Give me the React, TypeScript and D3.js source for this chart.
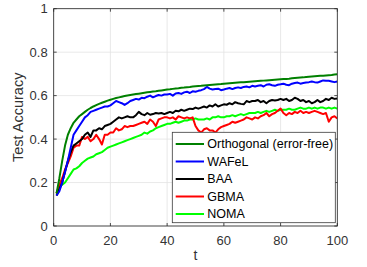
import React from 'react';
import * as d3 from 'd3';

const tValues = d3.range(1, 101);

const orthogonal = [
  0.15, 0.22, 0.30, 0.37, 0.42, 0.45, 0.475, 0.49, 0.505, 0.515,
  0.525, 0.535, 0.543, 0.55, 0.556, 0.562, 0.567, 0.572, 0.577, 0.581,
  0.585, 0.589, 0.592, 0.595, 0.598, 0.601, 0.603, 0.605, 0.607, 0.609,
  0.611, 0.613, 0.615, 0.617, 0.619, 0.62, 0.622, 0.624, 0.626, 0.628,
  0.629, 0.631, 0.633, 0.634, 0.636, 0.637, 0.639, 0.64, 0.642, 0.643,
  0.644, 0.645, 0.647, 0.648, 0.649, 0.65, 0.651, 0.652, 0.653, 0.655,
  0.656, 0.657, 0.658, 0.659, 0.66, 0.661, 0.662, 0.663, 0.664, 0.665,
  0.666, 0.667, 0.668, 0.669, 0.67, 0.671, 0.672, 0.673, 0.674, 0.675,
  0.676, 0.677, 0.678, 0.68, 0.681, 0.682, 0.683, 0.684, 0.686, 0.687,
  0.688, 0.689, 0.69, 0.691, 0.692, 0.693, 0.694, 0.695, 0.697, 0.698,
];

const wafel = [
  0.14, 0.16, 0.2, 0.25, 0.3, 0.36, 0.42, 0.44, 0.46, 0.48,
  0.5, 0.51, 0.525, 0.53, 0.535, 0.54, 0.545, 0.55, 0.55, 0.555,
  0.565, 0.575, 0.57, 0.565, 0.557, 0.565, 0.575, 0.58, 0.585, 0.582,
  0.59, 0.588, 0.595, 0.6, 0.592, 0.598, 0.603, 0.6, 0.605, 0.605,
  0.608, 0.6, 0.61, 0.612, 0.608, 0.615, 0.618, 0.612, 0.62, 0.618,
  0.622, 0.625, 0.63, 0.64, 0.632, 0.628, 0.63, 0.632, 0.625, 0.628,
  0.632, 0.635, 0.63, 0.635, 0.638, 0.635, 0.64, 0.642, 0.638, 0.645,
  0.642, 0.645, 0.648, 0.642, 0.65, 0.652, 0.648, 0.645, 0.65, 0.652,
  0.655, 0.65, 0.648, 0.655, 0.658, 0.66, 0.655, 0.658, 0.66, 0.662,
  0.665, 0.662, 0.66, 0.665, 0.67, 0.668, 0.668, 0.665, 0.662, 0.665,
];

const baa = [
  0.14, 0.17, 0.2, 0.25, 0.3, 0.34, 0.37, 0.38, 0.39, 0.4,
  0.42, 0.43, 0.41, 0.44, 0.44, 0.45, 0.445, 0.46, 0.465, 0.47,
  0.48, 0.49, 0.5, 0.495, 0.5, 0.505, 0.5, 0.5, 0.51, 0.525,
  0.515, 0.51, 0.52, 0.512, 0.515, 0.52, 0.518, 0.52, 0.515, 0.52,
  0.525, 0.52, 0.53, 0.528, 0.535, 0.53, 0.535, 0.54, 0.538, 0.545,
  0.54, 0.545, 0.55, 0.545, 0.555, 0.55, 0.56, 0.55, 0.555, 0.56,
  0.558, 0.565, 0.56, 0.57, 0.565, 0.562, 0.56, 0.575, 0.57, 0.575,
  0.575, 0.58, 0.57, 0.575, 0.565, 0.575, 0.58, 0.578, 0.58, 0.585,
  0.58, 0.585, 0.575, 0.58, 0.59, 0.585, 0.575, 0.58, 0.57, 0.575,
  0.565, 0.57, 0.58, 0.57, 0.575, 0.585, 0.58, 0.59, 0.585, 0.587,
];

const gbma = [
  0.15, 0.19, 0.22, 0.26, 0.29, 0.32, 0.36, 0.37, 0.37, 0.41,
  0.4, 0.41, 0.39, 0.4, 0.42, 0.4, 0.375, 0.42, 0.42, 0.43,
  0.43, 0.45, 0.44, 0.445, 0.46, 0.455, 0.46, 0.46, 0.465, 0.47,
  0.475, 0.48, 0.47, 0.49, 0.48, 0.46, 0.49, 0.495, 0.5, 0.5,
  0.495, 0.5, 0.49, 0.505, 0.5, 0.495, 0.5, 0.495, 0.5, 0.46,
  0.44, 0.43, 0.445, 0.45, 0.44, 0.44, 0.43, 0.445, 0.455, 0.46,
  0.465, 0.47, 0.48, 0.475, 0.48, 0.485, 0.49, 0.5, 0.495, 0.49,
  0.5, 0.495, 0.505, 0.51, 0.52, 0.505, 0.515, 0.52, 0.53, 0.54,
  0.52, 0.51, 0.52, 0.515, 0.525, 0.52, 0.53, 0.52, 0.525, 0.52,
  0.525, 0.53, 0.525, 0.52, 0.515, 0.52, 0.48, 0.5, 0.505, 0.495,
];

const noma = [
  0.15, 0.18, 0.19, 0.2, 0.22, 0.24, 0.26, 0.265, 0.275, 0.29,
  0.3, 0.31, 0.315, 0.32, 0.33, 0.335, 0.34, 0.35, 0.36, 0.365,
  0.37, 0.375, 0.38, 0.385, 0.39, 0.395, 0.4, 0.405, 0.41, 0.415,
  0.42, 0.43, 0.425, 0.435, 0.44, 0.45, 0.455, 0.46, 0.465, 0.47,
  0.47, 0.475, 0.48, 0.475, 0.48, 0.485, 0.485, 0.49, 0.49, 0.495,
  0.49, 0.49, 0.49, 0.495, 0.49, 0.5, 0.5, 0.505, 0.5, 0.5,
  0.505, 0.505, 0.51, 0.505, 0.51, 0.515, 0.51, 0.515, 0.52, 0.52,
  0.52, 0.525, 0.52, 0.525, 0.53, 0.525, 0.53, 0.535, 0.53, 0.535,
  0.535, 0.535, 0.54, 0.535, 0.535, 0.54, 0.545, 0.54, 0.54, 0.545,
  0.54, 0.545, 0.54, 0.545, 0.545, 0.54, 0.545, 0.54, 0.545, 0.54,
];

const seriesNames = ['Orthogonal (error-free)', 'WAFeL', 'BAA', 'GBMA', 'NOMA'];
const seriesColours = ['#008000', '#0000ff', '#000000', '#ff0000', '#00ff00'];
const seriesValues = [orthogonal, wafel, baa, gbma, noma];

const xTicks = [0, 20, 40, 60, 80, 100];
const yTicks = [0, 0.2, 0.4, 0.6, 0.8, 1];

const App = () => {
  const width = 367;
  const height = 267;
  const margin = { top: 8.7, right: 29.7, bottom: 41, left: 53.7 };
  const innerW = width - margin.left - margin.right;
  const innerH = height - margin.top - margin.bottom;

  const x = d3.scaleLinear().domain([0, 100]).range([0, innerW]);
  const y = d3.scaleLinear().domain([0, 1]).range([innerH, 0]);

  const line = d3.line<number>()
    .x((_, i) => x(tValues[i]))
    .y(d => y(d));

  const axisColour = '#262626';
  const labelColour = '#333333';
  const font = '"Liberation Sans", Arial, sans-serif';

  // bottom series first so the dark green ends on top
  const drawOrder = [4, 3, 2, 1, 0];

  const legend = { x: 172.3 - margin.left, y: 132.3 - margin.top, w: 163, h: 90.4 };

  return (
    <svg width={width} height={height} style={{ position: 'fixed', left: 0, top: 0, background: '#fff' }}>
      <defs>
        <clipPath id="plot-clip">
          <rect x={0} y={0} width={innerW} height={innerH} />
        </clipPath>
      </defs>
      <g transform={`translate(${margin.left},${margin.top})`}>
        <rect x={0} y={0} width={innerW} height={innerH} fill="#fff" />
        {xTicks.map(t => (
          <line key={'gx' + t} x1={x(t)} x2={x(t)} y1={0} y2={innerH} stroke="#e3e3e3" strokeWidth={0.8} />
        ))}
        {yTicks.map(t => (
          <line key={'gy' + t} x1={0} x2={innerW} y1={y(t)} y2={y(t)} stroke="#e3e3e3" strokeWidth={0.8} />
        ))}

        <g clipPath="url(#plot-clip)">
          {drawOrder.map(i => (
            <path key={seriesNames[i]} d={line(seriesValues[i]) || ''} fill="none"
              stroke={seriesColours[i]} strokeWidth={2} strokeLinejoin="round" />
          ))}
        </g>

        <rect x={0} y={0} width={innerW} height={innerH} fill="none" stroke={axisColour} strokeWidth={0.8} />
        {xTicks.map(t => (
          <g key={'tx' + t}>
            <line x1={x(t)} x2={x(t)} y1={innerH} y2={innerH - 3} stroke={axisColour} strokeWidth={0.8} />
            <line x1={x(t)} x2={x(t)} y1={0} y2={3} stroke={axisColour} strokeWidth={0.8} />
            <text x={x(t)} y={innerH + 19} textAnchor="middle" fontFamily={font} fontSize={13} fill={labelColour}>{t}</text>
          </g>
        ))}
        {yTicks.map(t => (
          <g key={'ty' + t}>
            <line x1={0} x2={3} y1={y(t)} y2={y(t)} stroke={axisColour} strokeWidth={0.8} />
            <line x1={innerW} x2={innerW - 3} y1={y(t)} y2={y(t)} stroke={axisColour} strokeWidth={0.8} />
            <text x={-6} y={y(t)} dy="0.35em" textAnchor="end" fontFamily={font} fontSize={13} fill={labelColour}>{t}</text>
          </g>
        ))}

        <text x={innerW / 2} y={innerH + 34} textAnchor="middle" fontFamily={font} fontSize={14} fill={labelColour}>t</text>
        <text transform={`translate(${23 - margin.left},${innerH / 2}) rotate(-90)`} textAnchor="middle"
          fontFamily={font} fontSize={14.5} fill={labelColour}>Test Accuracy</text>

        <g transform={`translate(${legend.x},${legend.y})`}>
          <rect x={0} y={0} width={legend.w} height={legend.h} fill="#fff" stroke="#3a3a3a" strokeWidth={0.8} />
          {seriesNames.map((name, i) => {
            const ly = 11.7 + i * 17.5;
            return (
              <g key={name}>
                <line x1={3.4} x2={31.7} y1={ly} y2={ly} stroke={seriesColours[i]} strokeWidth={2} />
                <text x={35} y={ly} dy="0.36em" fontFamily={font} fontSize={12.5} fill="#000">{name}</text>
              </g>
            );
          })}
        </g>
      </g>
    </svg>
  );
};

export default App;
